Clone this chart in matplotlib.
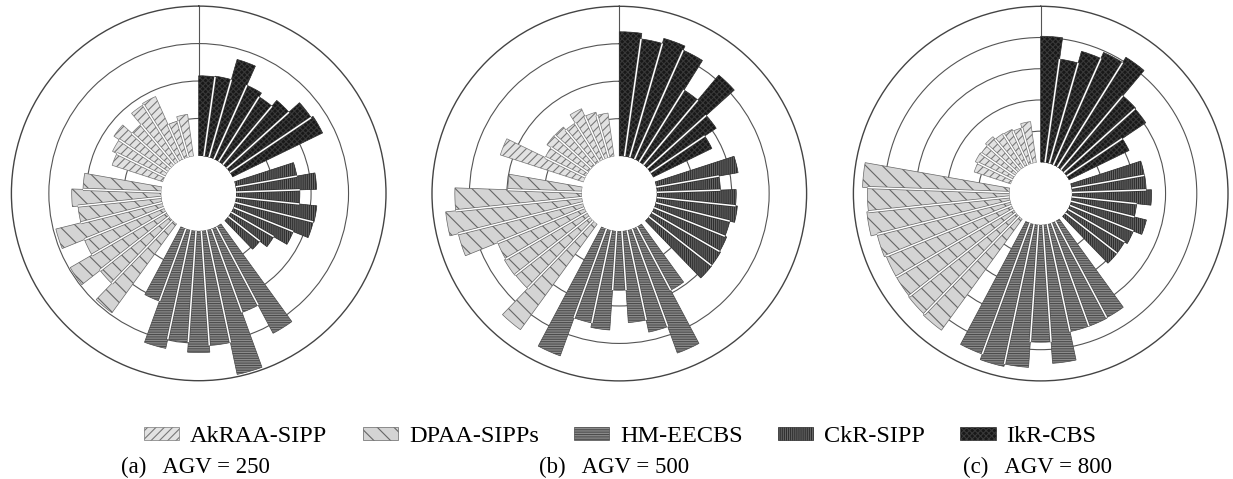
import numpy as np
import matplotlib
matplotlib.use("Agg")
import matplotlib.pyplot as plt
from matplotlib.patches import Patch

plt.rcParams['font.family'] = ['Liberation Serif', 'DejaVu Serif']
plt.rcParams['hatch.linewidth'] = 0.8

# Methods, clockwise from 12 o'clock
methods = ["IkR-CBS", "CkR-SIPP", "HM-EECBS", "DPAA-SIPPs", "AkRAA-SIPP"]
legend_order = ["AkRAA-SIPP", "DPAA-SIPPs", "HM-EECBS", "CkR-SIPP", "IkR-CBS"]
captions = ["(a)   AGV = 250", "(b)   AGV = 500", "(c)   AGV = 800"]

# Eight test instances per method, one list per AGV count
ikr_250 = [2.14, 2.16, 2.72, 2.16, 2.04, 2.24, 2.62, 2.68]
ckr_250 = [1.66, 2.15, 1.70, 2.17, 2.15, 1.72, 1.31, 1.07]
hm_250 = [3.23, 2.38, 3.94, 3.07, 3.25, 2.98, 3.23, 2.06]
dpaa_250 = [2.94, 2.34, 2.96, 2.29, 2.93, 2.24, 2.39, 2.09]
akraa_250 = [1.43, 1.56, 1.73, 1.40, 1.79, 1.83, 1.01, 1.13]

ikr_500 = [3.32, 3.17, 3.31, 3.19, 2.26, 3.13, 2.12, 1.75]
ckr_500 = [2.22, 1.70, 2.12, 2.17, 2.04, 2.09, 2.12, 2.13]
hm_500 = [1.92, 3.53, 2.78, 2.45, 1.58, 2.65, 2.53, 3.61]
dpaa_500 = [3.49, 2.52, 2.54, 2.50, 3.43, 3.66, 3.39, 1.98]
akraa_500 = [2.34, 1.20, 1.33, 1.32, 1.22, 1.48, 1.26, 1.17]

ikr_800 = [4.04, 3.35, 3.74, 3.95, 4.15, 3.09, 3.06, 2.15]
ckr_800 = [2.37, 2.38, 2.55, 2.09, 2.49, 2.20, 2.10, 2.10]
hm_800 = [3.50, 3.52, 3.52, 4.45, 3.76, 4.58, 4.66, 4.47]
dpaa_800 = [4.41, 4.37, 4.34, 4.34, 4.40, 4.60, 4.55, 4.71]
akraa_800 = [1.24, 1.33, 1.30, 1.38, 1.27, 1.25, 1.19, 1.33]

panels = [
    [ikr_250, ckr_250, hm_250, dpaa_250, akraa_250],
    [ikr_500, ckr_500, hm_500, dpaa_500, akraa_500],
    [ikr_800, ckr_800, hm_800, dpaa_800, akraa_800],
]
radial_max = [4, 4, 5]

styles = {
    "IkR-CBS":    dict(face="#181818", edge="#383838", hatch="xxxxxx"),
    "CkR-SIPP":   dict(face="#686868", edge="#2e2e2e", hatch="||||||||"),
    "HM-EECBS":   dict(face="#8c8c8c", edge="#4c4c4c", hatch="-------"),
    "DPAA-SIPPs": dict(face="#d4d4d4", edge="#666666", hatch="\\\\"),
    "AkRAA-SIPP": dict(face="#e2e2e2", edge="#787878", hatch="////"),
}

W, H = 1233, 479
fig = plt.figure(figsize=(W / 100, H / 100), dpi=100)

centers = [(198.7, 193.4), (619.3, 193.6), (1040.7, 193.6)]
radius = 187.3

n_slots = 45          # 5 groups x (8 bars + 1 empty slot)
slot = 2 * np.pi / n_slots

for p, (cx, cy) in enumerate(centers):
    ax = fig.add_axes([(cx - radius) / W, 1 - (cy + radius) / H,
                       2 * radius / W, 2 * radius / H], projection="polar")
    ax.set_theta_zero_location("N")
    ax.set_theta_direction(-1)
    ax.set_rorigin(-1)
    ax.set_ylim(0, radial_max[p])
    ax.set_yticks(np.arange(1, radial_max[p]))
    ax.set_yticklabels([])
    ax.set_xticks([0])
    ax.set_xticklabels([])
    ax.tick_params(length=0)
    ax.grid(True, color="#555555", linewidth=0.8)
    ax.set_axisbelow(True)
    ax.spines["polar"].set_edgecolor("#444444")
    ax.spines["polar"].set_linewidth(1.0)
    ax.spines["inner"].set_edgecolor("none")

    for g, name in enumerate(methods):
        vals = panels[p][g]
        st = styles[name]
        idx = g * 9 + np.arange(len(vals))
        theta = (idx + 0.5) * slot
        ax.bar(theta, vals, width=slot, bottom=0, align="center",
               color=st["face"], edgecolor=st["edge"], hatch=st["hatch"],
               linewidth=0.5, zorder=2)
        # thin white separators between neighbouring bars
        for i in range(len(vals) - 1):
            tb = (idx[i] + 1) * slot
            h = min(vals[i], vals[i + 1])
            ax.plot([tb, tb], [0, h], color=st["edge"], linewidth=2.1,
                    solid_capstyle="butt", zorder=3)
            ax.plot([tb, tb], [0, h], color="white", linewidth=1.1,
                    solid_capstyle="butt", zorder=3.1)

handles = [Patch(facecolor=styles[n]["face"], edgecolor=styles[n]["edge"],
                 hatch=styles[n]["hatch"], linewidth=0.5) for n in legend_order]
fig.legend(handles, legend_order, loc="center", ncol=5,
           bbox_to_anchor=(0.503, 1 - 437 / H), frameon=False, fontsize=17.5,
           handlelength=1.45, handleheight=0.45, handletextpad=0.45,
           columnspacing=1.45)

caption_x = [121, 539, 963]
for x, txt in zip(caption_x, captions):
    fig.text(x / W, 1 - 467 / H, txt, ha="left", va="center", fontsize=16.5)

fig.savefig("out.png", dpi=100, facecolor="white")
